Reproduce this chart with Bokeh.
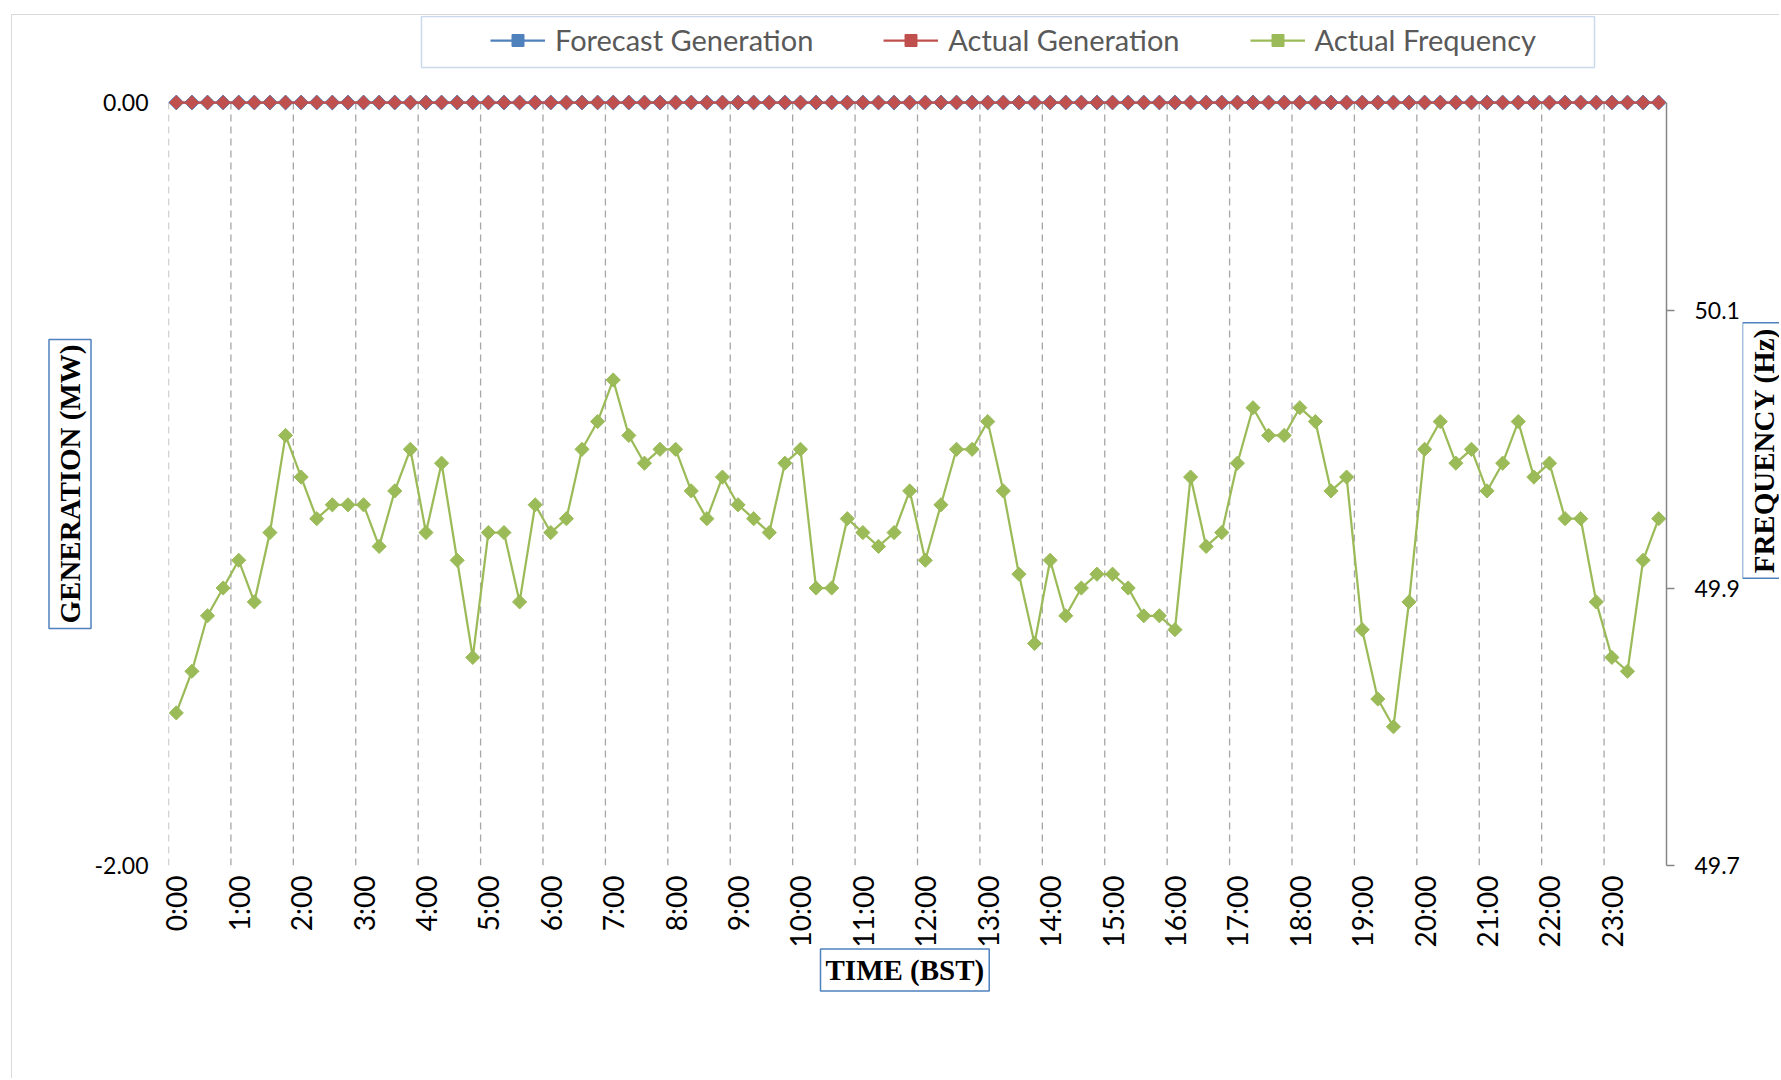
import math
from bokeh.plotting import figure
from bokeh.layouts import row
from bokeh.models import (Range1d, LinearAxis, FixedTicker, Legend, LegendItem,
                          Title, Label, BoxAnnotation, NumeralTickFormatter)
from bokeh.embed import file_html
from bokeh.resources import INLINE

# ---------------- data ----------------
hour_labels = ["0:00", "1:00", "2:00", "3:00", "4:00", "5:00", "6:00", "7:00",
               "8:00", "9:00", "10:00", "11:00", "12:00", "13:00", "14:00", "15:00",
               "16:00", "17:00", "18:00", "19:00", "20:00", "21:00", "22:00", "23:00"]

forecast_mw = [0.0, 0.0, 0.0, 0.0, 0.0, 0.0, 0.0, 0.0, 0.0, 0.0, 0.0, 0.0,
               0.0, 0.0, 0.0, 0.0, 0.0, 0.0, 0.0, 0.0, 0.0, 0.0, 0.0, 0.0,
               0.0, 0.0, 0.0, 0.0, 0.0, 0.0, 0.0, 0.0, 0.0, 0.0, 0.0, 0.0,
               0.0, 0.0, 0.0, 0.0, 0.0, 0.0, 0.0, 0.0, 0.0, 0.0, 0.0, 0.0,
               0.0, 0.0, 0.0, 0.0, 0.0, 0.0, 0.0, 0.0, 0.0, 0.0, 0.0, 0.0,
               0.0, 0.0, 0.0, 0.0, 0.0, 0.0, 0.0, 0.0, 0.0, 0.0, 0.0, 0.0,
               0.0, 0.0, 0.0, 0.0, 0.0, 0.0, 0.0, 0.0, 0.0, 0.0, 0.0, 0.0,
               0.0, 0.0, 0.0, 0.0, 0.0, 0.0, 0.0, 0.0, 0.0, 0.0, 0.0, 0.0]

actual_mw = [0.0, 0.0, 0.0, 0.0, 0.0, 0.0, 0.0, 0.0, 0.0, 0.0, 0.0, 0.0,
             0.0, 0.0, 0.0, 0.0, 0.0, 0.0, 0.0, 0.0, 0.0, 0.0, 0.0, 0.0,
             0.0, 0.0, 0.0, 0.0, 0.0, 0.0, 0.0, 0.0, 0.0, 0.0, 0.0, 0.0,
             0.0, 0.0, 0.0, 0.0, 0.0, 0.0, 0.0, 0.0, 0.0, 0.0, 0.0, 0.0,
             0.0, 0.0, 0.0, 0.0, 0.0, 0.0, 0.0, 0.0, 0.0, 0.0, 0.0, 0.0,
             0.0, 0.0, 0.0, 0.0, 0.0, 0.0, 0.0, 0.0, 0.0, 0.0, 0.0, 0.0,
             0.0, 0.0, 0.0, 0.0, 0.0, 0.0, 0.0, 0.0, 0.0, 0.0, 0.0, 0.0,
             0.0, 0.0, 0.0, 0.0, 0.0, 0.0, 0.0, 0.0, 0.0, 0.0, 0.0, 0.0]

freq_hz = [49.81, 49.84, 49.88, 49.90, 49.92, 49.89, 49.94, 50.01,
           49.98, 49.95, 49.96, 49.96, 49.96, 49.93, 49.97, 50.00,
           49.94, 49.99, 49.92, 49.85, 49.94, 49.94, 49.89, 49.96,
           49.94, 49.95, 50.00, 50.02, 50.05, 50.01, 49.99, 50.00,
           50.00, 49.97, 49.95, 49.98, 49.96, 49.95, 49.94, 49.99,
           50.00, 49.90, 49.90, 49.95, 49.94, 49.93, 49.94, 49.97,
           49.92, 49.96, 50.00, 50.00, 50.02, 49.97, 49.91, 49.86,
           49.92, 49.88, 49.90, 49.91, 49.91, 49.90, 49.88, 49.88,
           49.87, 49.98, 49.93, 49.94, 49.99, 50.03, 50.01, 50.01,
           50.03, 50.02, 49.97, 49.98, 49.87, 49.82, 49.80, 49.89,
           50.00, 50.02, 49.99, 50.00, 49.97, 49.99, 50.02, 49.98,
           49.99, 49.95, 49.95, 49.89, 49.85, 49.84, 49.92, 49.95]

slots = list(range(len(freq_hz)))          # 15-minute periods
slots_per_hour = 4
hour_ticks = [k * slots_per_hour for k in range(len(hour_labels))]
hour_bounds = [t - 0.5 for t in hour_ticks]

gen_min, gen_max = -2.0, 0.0
freq_min, freq_max = 49.7, 50.25
freq_ticks = [49.7, 49.9, 50.1]

BLUE = "#4F81BD"
RED = "#C0504D"
GREEN = "#9BBB59"
GRID = "#A6A6A6"
FONT = "Lato"

# ---------------- layout (pixels) ----------------
H = 1063
W_MAIN, W_SIDE = 1730, 37
plot_w, plot_h = 1498, 763        # data area 0.00 .. -2.00
head_px = 87                       # room above the data area (legend)
left_b = 156
frame_h = plot_h + head_px
right_b = W_MAIN - left_b - plot_w
bottom_b = H - frame_h

gen_top = gen_max + (gen_max - gen_min) * head_px / plot_h
freq_top = freq_max + (freq_max - freq_min) * head_px / plot_h

p = figure(width=W_MAIN, height=H, output_backend="svg", toolbar_location=None, title=None,
           x_range=Range1d(-0.5, len(slots) - 0.5),
           y_range=Range1d(gen_min, gen_top),
           min_border_left=left_b, min_border_right=right_b,
           min_border_top=0, min_border_bottom=bottom_b)
p.outline_line_color = None
p.background_fill_color = "white"
p.border_fill_color = "white"

p.extra_y_ranges = {"freq": Range1d(freq_min, freq_top)}

# x axis
xa = p.xaxis[0]
xa.ticker = FixedTicker(ticks=hour_ticks)
xa.major_label_overrides = {t: lab for t, lab in zip(hour_ticks, hour_labels)}
xa.major_label_orientation = math.pi / 2
xa.axis_line_color = None
xa.major_tick_line_color = None
xa.minor_tick_line_color = None
xa.major_label_standoff = 4
xa.major_label_text_font = FONT
xa.major_label_text_font_size = "28px"
xa.major_label_text_color = "black"

# left axis
ya = p.yaxis[0]
ya.ticker = FixedTicker(ticks=[gen_min, gen_max])
ya.formatter = NumeralTickFormatter(format="0.00")
ya.axis_line_color = None
ya.major_tick_line_color = None
ya.minor_tick_line_color = None
ya.major_label_standoff = 14
ya.major_label_text_font = FONT
ya.major_label_text_font_size = "23px"
ya.major_label_text_color = "black"

# right axis
ra = LinearAxis(y_range_name="freq", ticker=FixedTicker(ticks=freq_ticks),
                formatter=NumeralTickFormatter(format="0.0"),
                bounds=(freq_min, freq_max))
ra.axis_line_color = "#868686"
ra.axis_line_width = 1.5
ra.major_tick_line_color = "#868686"
ra.major_tick_line_width = 1.5
ra.major_tick_out = 8
ra.major_tick_in = 0
ra.minor_tick_line_color = None
ra.major_label_standoff = 20
ra.major_label_text_font = FONT
ra.major_label_text_font_size = "23px"
ra.major_label_text_color = "black"
p.add_layout(ra, "right")

# grids: horizontal via grid, vertical hour boundaries as dashed segments
p.xgrid.visible = False
p.ygrid.ticker = FixedTicker(ticks=[gen_min, gen_max])
p.ygrid.grid_line_color = GRID
p.ygrid.grid_line_dash = "7 5"
p.ygrid.grid_line_width = 1.3
p.segment(x0=hour_bounds, y0=[gen_min] * len(hour_bounds),
          x1=hour_bounds, y1=[gen_max] * len(hour_bounds),
          line_color=GRID, line_dash="7 5", line_width=1.3)

# series
bl = p.line(slots, forecast_mw, line_color=BLUE, line_width=2.25)
bs = p.scatter(slots, forecast_mw, marker="square", angle=math.pi / 4, size=10.5,
               fill_color=BLUE, line_color=BLUE)
rl = p.line(slots, actual_mw, line_color=RED, line_width=2.25)
rs = p.scatter(slots, actual_mw, marker="square", angle=math.pi / 4, size=9.5,
               fill_color=RED, line_color=RED)
gl = p.line(slots, freq_hz, y_range_name="freq", line_color=GREEN, line_width=2.25)
gs = p.scatter(slots, freq_hz, y_range_name="freq", marker="square", angle=math.pi / 4,
               size=10, fill_color=GREEN, line_color=GREEN)

# legend (box drawn separately so the inner spacing can match)
p.add_layout(BoxAnnotation(left=253, right=253 + 1173, bottom=frame_h - 52, top=frame_h - 1,
                           left_units="screen", right_units="screen",
                           bottom_units="screen", top_units="screen",
                           fill_alpha=0, line_color=BLUE, line_width=1.5))
legend = Legend(items=[LegendItem(label="Forecast Generation", renderers=[bl, bs]),
                       LegendItem(label="Actual Generation", renderers=[rl, rs]),
                       LegendItem(label="Actual Frequency", renderers=[gl, gs])],
                location=(322, frame_h - 42), orientation="horizontal")
legend.margin = 0
legend.padding = 0
legend.spacing = 70
legend.glyph_width = 55
legend.glyph_height = 30
legend.label_standoff = 10
legend.label_width = 0
legend.label_text_font = FONT
legend.label_text_font_size = "29px"
legend.label_text_color = "#595959"
legend.border_line_color = None
legend.background_fill_alpha = 0
p.add_layout(legend)

# boxed axis titles
title_kw = dict(text_font="Liberation Serif", text_font_style="bold",
                text_font_size="29px", text_color="black",
                border_line_color=BLUE, border_line_width=1.5,
                background_fill_color="white", padding=5)
p.add_layout(Title(text="GENERATION (MW)", align="left", offset=237, standoff=1,
                   **title_kw), "left")
p.add_layout(Title(text="TIME (BST)", align="left", offset=652, standoff=-7,
                   **title_kw), "below")

# right-hand title: narrow companion canvas (frames are aligned by the row)
q = figure(width=W_SIDE, height=H, output_backend="svg", toolbar_location=None, title=None,
           x_range=Range1d(0, 1), y_range=Range1d(0, 1),
           x_axis_type=None, y_axis_type=None,
           min_border_left=0, min_border_right=0, min_border_top=0, min_border_bottom=0)
q.outline_line_color = None
q.xgrid.visible = False
q.ygrid.visible = False
q.add_layout(Label(x=21, y=415, x_units="screen", y_units="screen",
                   text="FREQUENCY (Hz)", angle=math.pi / 2, text_align="center",
                   text_baseline="middle", **title_kw))

layout = row(p, q, spacing=0,
             styles={"border-left": "1px solid #D9D9D9", "border-top": "1px solid #D9D9D9",
                     "margin-left": "11px", "margin-top": "14px"})
open("out.html", "w").write(file_html(layout, INLINE))
